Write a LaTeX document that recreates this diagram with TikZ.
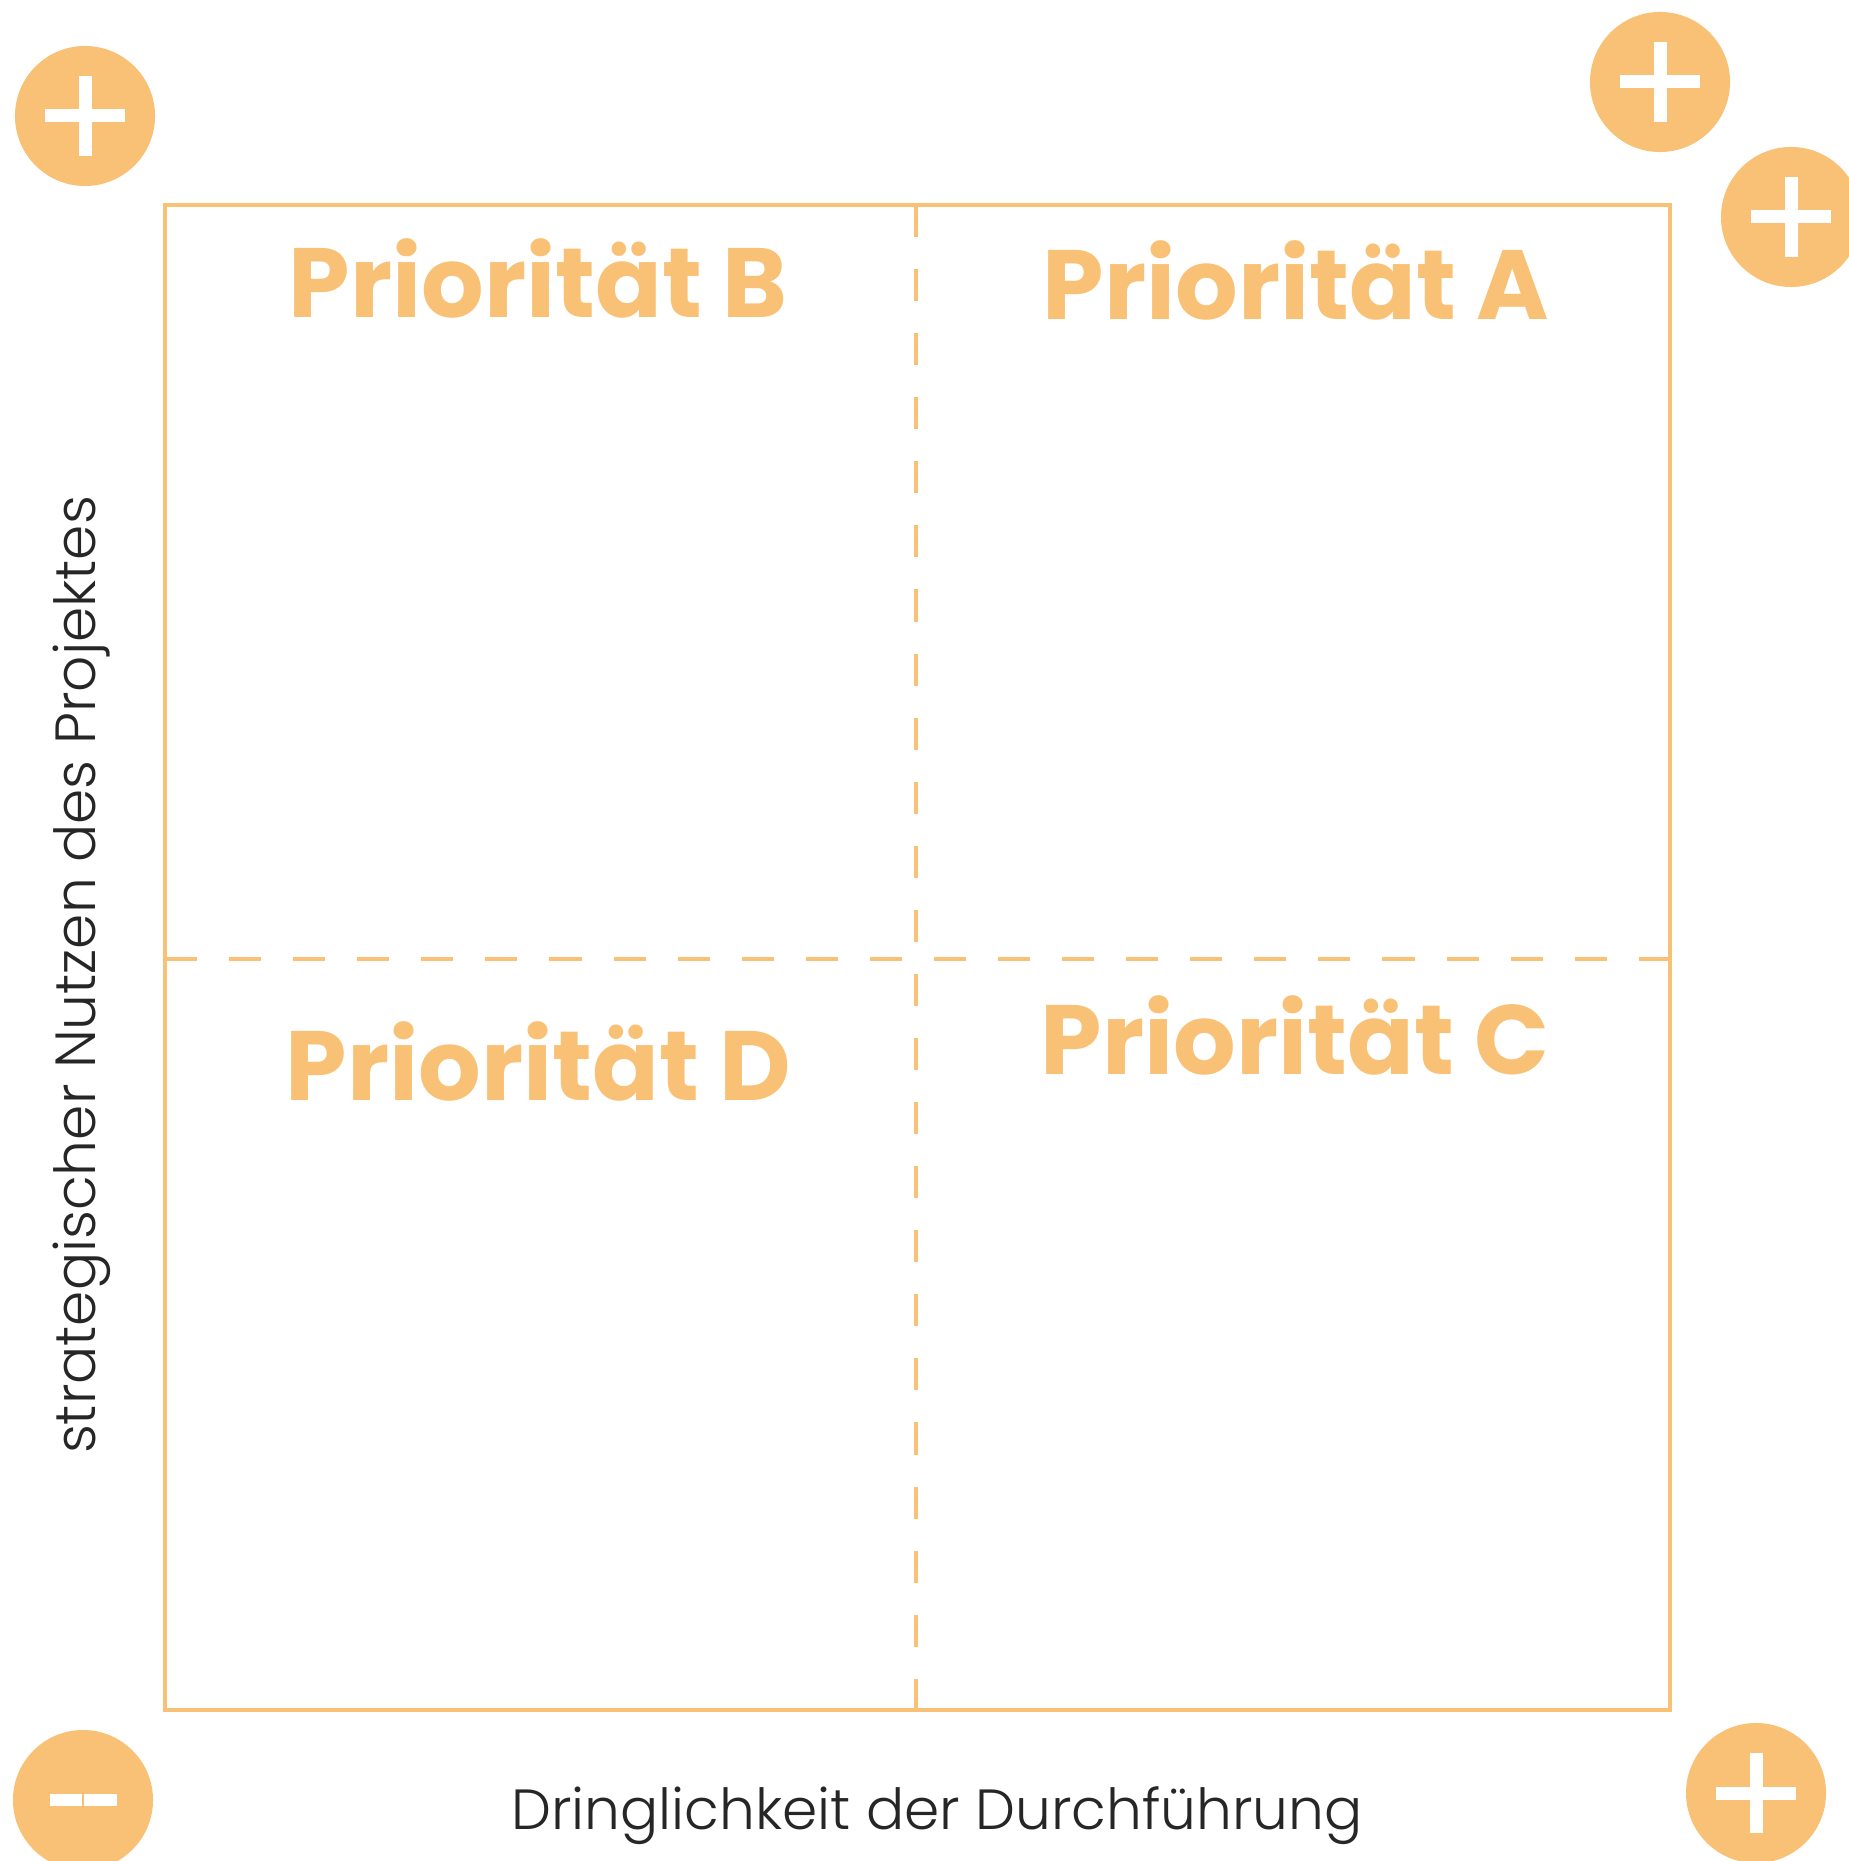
\documentclass[tikz,border=0pt]{standalone}
\usepackage{fontspec}
\setmainfont{Poppins}
\newfontfamily\axisfont{Poppins Light}
\usetikzlibrary{positioning}
\definecolor{apricot}{RGB}{249,193,117}

\begin{document}
\begin{tikzpicture}[
  x=0.01cm, y=-0.01cm,
  badge/.style={circle, fill=apricot, minimum size=1.4cm, inner sep=0pt},
  prio/.style={anchor=base west, inner sep=0pt, text=apricot, font=\fontsize{28}{28}\selectfont\bfseries},
  axis/.style={anchor=base, inner sep=0pt, text=black!85, font=\axisfont\fontsize{16.1}{16.1}\selectfont},
  grid/.style={draw=apricot, line width=1.1pt},
  % 24 dashes and 23 gaps fill the side exactly
  divider/.style={grid, dash pattern=on 3.202mm off 3.202mm}
]
\useasboundingbox (0,0) rectangle (1849,1861);

% frame and quadrant dividers
\coordinate (nw) at (165,205);
\coordinate (se) at (1670,1710);
\coordinate (top) at (916,205);
\coordinate (bottom) at (916,1710);
\coordinate (left) at (165,959);
\coordinate (right) at (1670,959);
\draw[grid] (nw) rectangle (se);
\draw[divider] (top) -- (bottom);
\draw[divider] (left) -- (right);

% quadrant titles
\node[prio] (prioB) at (288,318) {Priorität B};
\node[prio] (prioA) at (1042,320) {Priorität A};
\node[prio] (prioD) at (285,1100) {Priorität D};
\node[prio] (prioC) at (1040,1074) {Priorität C};

% axis labels
\node[axis] (xlabel) at (937,1829) {Dringlichkeit der Durchführung};
\node[axis, rotate=90] (ylabel) at (95,975) {strategischer Nutzen des Projektes};

% plus / minus badges
\node[badge] (tl) at (85,116) {};
\node[badge] (tr) at (1660,82) {};
\node[badge] (rt) at (1791,217) {};
\node[badge] (br) at (1756,1793) {};
\node[badge] (bl) at (83,1800) {};

\foreach \b in {tl,tr,rt,br} {
  \fill[white] ([shift={(-40,-6.5)}]\b.center) rectangle ([shift={(40,6.5)}]\b.center);
  \fill[white] ([shift={(-6.5,-40)}]\b.center) rectangle ([shift={(6.5,40)}]\b.center);
}
\fill[white] ([shift={(-33,-6)}]bl.center) rectangle ([shift={(-0.7,6)}]bl.center);
\fill[white] ([shift={(0.7,-6)}]bl.center) rectangle ([shift={(34,6)}]bl.center);

\end{tikzpicture}
\end{document}
